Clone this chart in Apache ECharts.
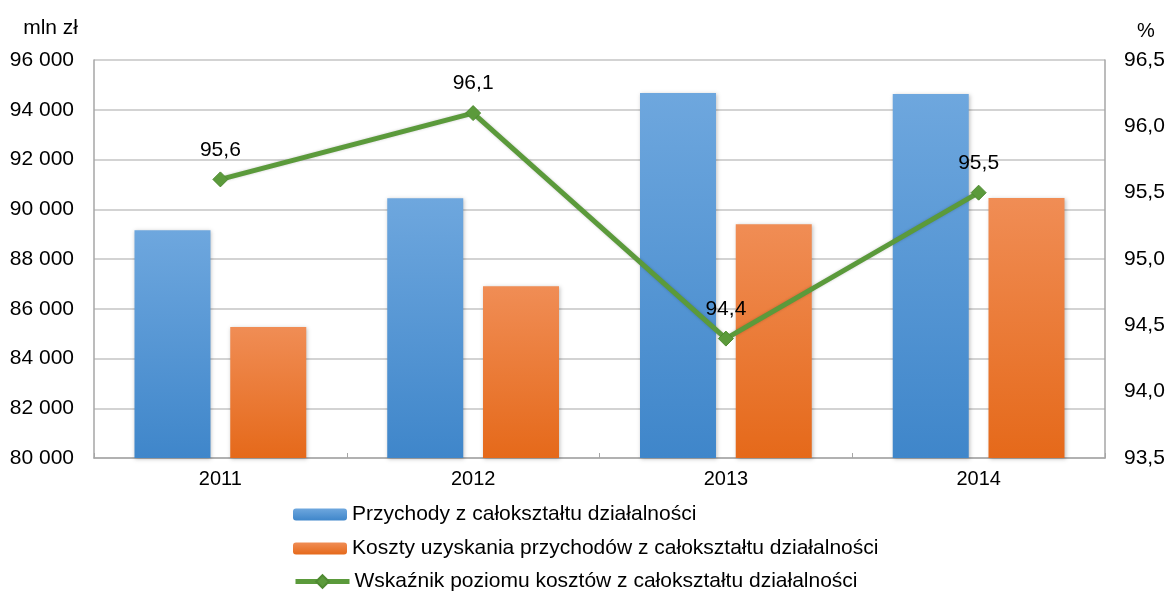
<!DOCTYPE html>
<html>
<head>
<meta charset="utf-8">
<script src="https://cdn.jsdelivr.net/npm/echarts@6/dist/echarts.min.js"></script>
<style>
  html, body { margin: 0; padding: 0; background: #fff; }
  #chart { width: 1170px; height: 592px; }
</style>
</head>
<body>
<div id="chart"></div>
<script>
  const years = ["2011", "2012", "2013", "2014"]
  const przychody = [89160, 90440, 94670, 94630]
  const koszty = [85270, 86900, 89400, 90450]
  const wskaznik = [95.6, 96.1, 94.4, 95.5]

  const seriesNames = [
    "Przychody z całokształtu działalności",
    "Koszty uzyskania przychodów z całokształtu działalności",
    "Wskaźnik poziomu kosztów z całokształtu działalności"
  ]

  const leftTicks = { min: 80000, max: 96000, interval: 2000 }
  const rightTicks = { min: 93.5, max: 96.5, interval: 0.5 }

  const FONT = "'Liberation Sans', Arial, sans-serif"
  const gridColor = "#c4c4c4"
  const axisColor = "#a6a6a6"

  // "96000" -> "96 000", 95.6 -> "95,6"
  const fmtThousands = v => String(v).replace(/\B(?=(\d{3})+(?!\d))/g, " ")
  const fmtPct = v => v.toFixed(1).replace(".", ",")

  function grad(top, bottom) {
    return new echarts.graphic.LinearGradient(0, 0, 0, 1, [
      { offset: 0, color: top },
      { offset: 1, color: bottom }
    ])
  }

  // one legend per row, stacked vertically like the original
  const legends = seriesNames.map((name, i) => ({
    left: 293,
    top: i === 2 ? 504 + i * 34 - 1 : 504 + i * 34,
    padding: 0,
    itemWidth: 54,
    itemHeight: i === 2 ? 16 : 12,
    textStyle: { fontFamily: FONT, fontSize: 21, color: "#000" },
    data: [i === 2 ? { name, lineStyle: { width: 5 } } : { name }]
  }))

  const chart = echarts.init(document.getElementById("chart"), null, { renderer: "canvas" })

  chart.setOption({
    backgroundColor: "#ffffff",
    animation: false,
    textStyle: { fontFamily: FONT },

    grid: { left: 94, right: 65, top: 60, bottom: 134, containLabel: false },

    legend: legends,

    xAxis: {
      type: "category",
      data: years,
      boundaryGap: true,
      axisLine: { show: true, lineStyle: { color: axisColor, width: 1.5 } },
      axisTick: { show: true, inside: true, length: 5, lineStyle: { color: axisColor } },
      axisLabel: { color: "#000", fontSize: 20, fontFamily: FONT, margin: 11 }
    },

    yAxis: [
      {
        type: "value",
        min: leftTicks.min,
        max: leftTicks.max,
        interval: leftTicks.interval,
        name: "mln zł",
        nameLocation: "end",
        nameGap: 21,
        nameTextStyle: { color: "#000", fontSize: 21, fontFamily: FONT, align: "right", padding: [0, 16, 0, 0] },
        axisLine: { show: true, lineStyle: { color: axisColor, width: 1.5 } },
        axisTick: { show: false },
        axisLabel: { color: "#000", fontSize: 21, fontFamily: FONT, margin: 20, formatter: fmtThousands },
        splitLine: { show: true, lineStyle: { color: gridColor, width: 1.5 } }
      },
      {
        type: "value",
        position: "right",
        min: rightTicks.min,
        max: rightTicks.max,
        interval: rightTicks.interval,
        name: "%",
        nameLocation: "end",
        nameGap: 19,
        nameTextStyle: { color: "#000", fontSize: 20, fontFamily: FONT, align: "left", padding: [0, 0, 0, 32] },
        axisLine: { show: true, lineStyle: { color: axisColor, width: 1.5 } },
        axisTick: { show: false },
        axisLabel: { color: "#000", fontSize: 21, fontFamily: FONT, margin: 19, formatter: fmtPct },
        splitLine: { show: false }
      }
    ],

    series: [
      {
        name: seriesNames[0],
        type: "bar",
        data: przychody,
        barWidth: 76,
        barGap: "26%",
        itemStyle: {
          color: grad("#6ea7de", "#3f86ca"),
          shadowBlur: 4,
          shadowColor: "rgba(0,0,0,0.25)",
          shadowOffsetX: 1,
          shadowOffsetY: 1
        }
      },
      {
        name: seriesNames[1],
        type: "bar",
        data: koszty,
        barWidth: 76,
        itemStyle: {
          color: grad("#f08d55", "#e5691a"),
          shadowBlur: 4,
          shadowColor: "rgba(0,0,0,0.25)",
          shadowOffsetX: 1,
          shadowOffsetY: 1
        }
      },
      {
        name: seriesNames[2],
        type: "line",
        yAxisIndex: 1,
        data: wskaznik,
        symbol: "diamond",
        symbolSize: 15,
        z: 5,
        lineStyle: { color: "#5b9a3b", width: 5, shadowBlur: 3, shadowColor: "rgba(0,0,0,0.2)" },
        itemStyle: { color: "#5b9a3b", borderColor: "#4f8a32", borderWidth: 1 },
        label: {
          show: true,
          position: "top",
          distance: 11,
          color: "#000",
          fontSize: 21,
          fontFamily: FONT,
          formatter: p => fmtPct(p.value)
        }
      }
    ]
  })
</script>
</body>
</html>
